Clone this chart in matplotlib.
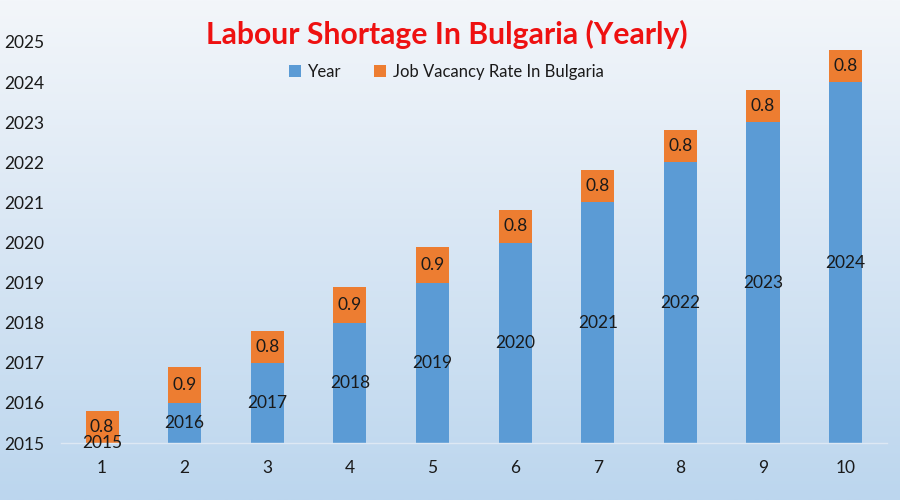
import numpy as np
import matplotlib
matplotlib.use('Agg')
from matplotlib import pyplot as plt
from matplotlib.colors import LinearSegmentedColormap

plt.rcParams['font.family'] = ['Lato', 'DejaVu Sans']

# data
positions = [1, 2, 3, 4, 5, 6, 7, 8, 9, 10]
years = [2015, 2016, 2017, 2018, 2019, 2020, 2021, 2022, 2023, 2024]
vacancy = [0.8, 0.9, 0.8, 0.9, 0.9, 0.8, 0.8, 0.8, 0.8, 0.8]

blue = '#5B9BD5'
orange = '#ED7D31'
ymin, ymax = 2015, 2025

fig = plt.figure(figsize=(9, 5), dpi=100)

# gradient background
bg = fig.add_axes([0, 0, 1, 1], zorder=-10)
grad = LinearSegmentedColormap.from_list('bg', ['#F3F6FA', '#BCD6EE'])
bg.imshow(np.linspace(0, 1, 256).reshape(-1, 1), aspect='auto', cmap=grad,
          extent=[0, 1, 0, 1], origin='upper')
bg.axis('off')

ax = fig.add_axes([0.0675, 0.114, 0.918, 0.802])
ax.patch.set_alpha(0)

ax.bar(positions, years, width=0.4, color=blue, label='Year')
ax.bar(positions, vacancy, width=0.4, bottom=years, color=orange,
       label='Job Vacancy Rate In Bulgaria')

for x, y, v in zip(positions, years, vacancy):
    ax.text(x, (ymin + y) / 2, str(y), ha='center', va='center',
            fontsize=12.5, color='#1a1a1a')
    ax.text(x, y + v / 2, str(v), ha='center', va='center',
            fontsize=12.5, color='#1a1a1a')

ax.set_ylim(ymin, ymax)
ax.set_xlim(0.5, 10.5)
ax.set_yticks(range(ymin, ymax + 1))
ax.set_xticks(positions)
ax.tick_params(length=0, labelsize=12.5, labelcolor='#1a1a1a')
ax.tick_params(axis='x', pad=12)
ax.tick_params(axis='y', pad=12)
for s in ['top', 'right', 'left']:
    ax.spines[s].set_visible(False)
ax.spines['bottom'].set_color('#dde8f4')
ax.spines['bottom'].set_linewidth(1)

fig.text(0.496, 0.932, 'Labour Shortage In Bulgaria (Yearly)', ha='center',
         va='center', fontsize=21.7, fontweight='bold', color='#EE1111')

fig.legend(loc='center', bbox_to_anchor=(0.496, 0.856), ncol=2, frameon=False,
           fontsize=12, handlelength=0.7, handleheight=0.7, handletextpad=0.4,
           columnspacing=2.0, labelcolor='#1a1a1a')

fig.savefig('out.png', dpi=100)
